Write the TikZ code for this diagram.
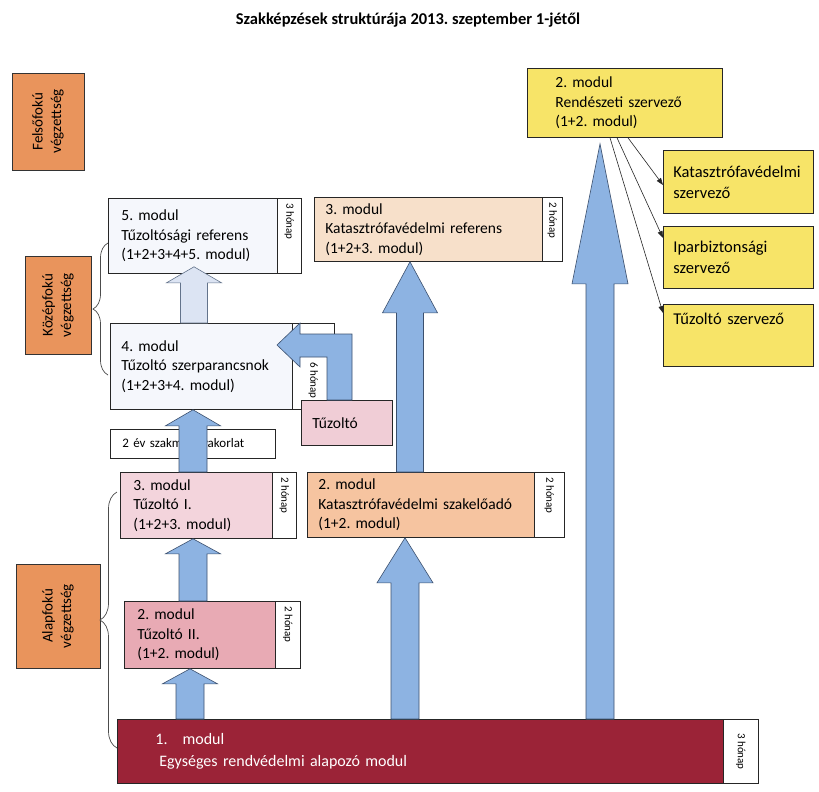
\documentclass[tikz,border=0pt]{standalone}
\usepackage{fontspec}
\setmainfont{Carlito}
\frenchspacing
\usetikzlibrary{calc,decorations.pathreplacing,arrows.meta}
\definecolor{lvl}{RGB}{233,148,92}
\definecolor{modw}{RGB}{245,247,252}
\definecolor{katref}{RGB}{247,224,202}
\definecolor{katszak}{RGB}{246,196,160}
\definecolor{tpink}{RGB}{243,212,220}
\definecolor{tpinkd}{RGB}{232,170,180}
\definecolor{tuzp}{RGB}{240,205,214}
\definecolor{darkred}{RGB}{155,35,55}
\definecolor{yel}{RGB}{247,228,104}
\definecolor{arrblue}{RGB}{141,179,226}
\definecolor{arrline}{RGB}{60,80,110}
\definecolor{lav}{RGB}{220,228,243}
\newcommand\mfont{\fontsize{15.5}{19.5}\selectfont}
\newcommand\rfont{\fontsize{16.5}{21}\selectfont}
\newcommand\modbox[9][]{% opts,name,x1,y1,x2,y2,fill,pad,text
  \pgfmathsetmacro\tw{#5-#3-2*#8}\pgfmathsetmacro\bh{#6-#4}%
  \node[box, fill=#7, inner xsep=#8pt, minimum height=\bh pt, text width=\tw pt, anchor=north west, #1] (#2) at (#3,#4) {#9};}
\newcommand\tabbox[7]{% name,x1,y1,x2,y2,text offset,text
  \pgfmathsetmacro\tw{#4-#2}\pgfmathsetmacro\bh{#5-#3}%
  \node[tabframe, minimum width=\tw pt, minimum height=\bh pt, anchor=north west] (#1) at (#2,#3) {};
  \node[tabtxt] (#1x) at ($(#1.north)+(0,#6)$) {#7};}
\newcommand\blockup[6]{% base, tip, half shaft, half head, head length, style
  \draw[#6] let \p1=#1, \p2=#2 in
   ({\x2-#3},\y1) -- ({\x2-#3},{\y2-#5}) -- ({\x2-#4},{\y2-#5}) -- (\x2,\y2)
   -- ({\x2+#4},{\y2-#5}) -- ({\x2+#3},{\y2-#5}) -- ({\x2+#3},\y1) -- cycle;}
\tikzset{
  box/.style={draw=black!85, line width=0.8pt, align=left, font=\mfont, inner ysep=0pt},
  tabframe/.style={draw=black!85, fill=white, line width=0.8pt, inner sep=0pt},
  tabtxt/.style={font=\fontsize{11}{13}\selectfont, rotate=-90, anchor=west, inner sep=0pt},
  lvlbox/.style={draw=black!80, fill=lvl, line width=0.8pt, rotate=90, align=center,
     font=\fontsize{15}{18.5}\selectfont, inner sep=0pt},
  barrow/.style={fill=arrblue, draw=arrline, line width=0.6pt, line join=miter},
  larrow/.style={fill=lav, draw=arrline!80, line width=0.6pt, line join=miter},
  thinarr/.style={draw=black!85, line width=0.6pt, -{Triangle[length=7pt,width=5pt]}},
  bracel/.style={draw=black!70, line width=0.7pt, decorate}
}
\begin{document}
\begin{tikzpicture}[x=1pt,y=-1pt]
\useasboundingbox[fill=white] (0,0) rectangle (819,792);
% title
\node[font=\fontsize{16.5}{19}\selectfont\bfseries] (title) at (408,20) {Szakképzések struktúrája 2013. szeptember 1-jétől};
% level boxes
\node[lvlbox, minimum width=97pt, minimum height=72pt] (felso) at (48,121.5) {Felsőfokú\\végzettség};
\node[lvlbox, minimum width=98pt, minimum height=66pt] (kozep) at (58,305) {Középfokú\\végzettség};
\node[lvlbox, minimum width=104pt, minimum height=84pt] (alap) at (58,616) {Alapfokú\\végzettség};
% modules
\modbox{m5}{108}{198}{277}{273}{modw}{13}{5. modul\\Tűzoltósági referens\\(1+2+3+4+5. modul)}
\tabbox{t5}{277}{198}{301}{273}{5}{3 hónap}
\modbox{m4}{110}{323}{292}{409}{modw}{11}{4. modul\\Tűzoltó szerparancsnok\\(1+2+3+4. modul)\\[6pt]}
\tabbox{t4}{292}{323}{334}{409}{39}{6 hónap}
\modbox{kref}{314}{197}{542}{261}{katref}{11}{3. modul\\Katasztrófavédelmi referens\\(1+2+3. modul)}
\tabbox{tkref}{542}{197}{562}{261}{5}{2 hónap}
\modbox{rend}{527}{68}{722}{137}{yel}{28}{2. modul\\Rendészeti szervező\\(1+2. modul)}
\modbox[font=\rfont]{ksz}{663}{150}{813}{213}{yel}{10}{Katasztrófavédelmi\\szervező}
\modbox[font=\rfont]{isz}{663}{226}{813}{288}{yel}{10}{Iparbiztonsági\\szervező}
\modbox[font=\rfont]{tsz}{663}{304}{813}{366}{yel}{10}{Tűzoltó szervező\\[12pt]\mbox{}}
\modbox[fill=white, font=\fontsize{13}{15}\selectfont]{gyak}{110}{429}{275}{458}{white}{12}{2 év szakmai gyakorlat}
\modbox{t1}{120}{472}{272}{538}{tpink}{13}{3. modul\\Tűzoltó I.\\(1+2+3. modul)}
\tabbox{tt1}{272}{472}{296}{538}{5}{2 hónap}
\modbox{t2}{124}{601}{275}{668}{tpinkd}{13}{2. modul\\Tűzoltó II.\\(1+2. modul)}
\tabbox{tt2}{275}{601}{300}{668}{5}{2 hónap}
\modbox{kszak}{307}{472}{534}{537}{katszak}{11}{2. modul\\Katasztrófavédelmi szakelőadó\\(1+2. modul)}
\tabbox{tkszak}{534}{472}{564}{537}{5}{2 hónap}
\modbox[font=\fontsize{16}{22}\selectfont]{bot}{117}{719}{723}{783}{darkred}{38}{\color{white}1.\hspace{15pt}modul\\\color{white}\hspace{4pt}Egységes rendvédelmi alapozó modul\\[-6pt]}
\node[tabframe, minimum width=35pt, minimum height=64pt, anchor=north west] (tbot) at (723,719) {};
\node[tabtxt, anchor=center] (tbotx) at (tbot.center) {3 hónap};
\modbox{tuz}{301}{400}{392}{445}{tuzp}{11}{Tűzoltó}
% braces
\draw[bracel, decoration={brace, amplitude=15pt}] (108,375) -- (108,243);
\draw[bracel, decoration={brace, amplitude=17pt}] (117,748) -- (117,492);
% block arrows
\blockup{(m4.north -| 193,0)}{($(m5.south -| 194,0)+(0,-7)$)}{13.5pt}{27.5pt}{16pt}{larrow}
\blockup{(t1.north -| 193,0)}{(m4.south -| 193,0)}{14pt}{27.5pt}{16pt}{barrow}
\blockup{(t2.north -| 193,0)}{(t1.south -| 193,0)}{14pt}{27.5pt}{15pt}{barrow}
\blockup{(bot.north -| 190,0)}{(t2.south -| 190,0)}{14pt}{27.5pt}{15pt}{barrow}
\blockup{(bot.north -| 405,0)}{(kszak.south -| 405,0)}{14pt}{28pt}{45pt}{barrow}
\blockup{(kszak.north -| 410,0)}{(kref.south -| 410,0)}{13.5pt}{27.5pt}{51pt}{barrow}
\blockup{(bot.north -| 600,0)}{($(rend.south -| 600,0)+(0,6)$)}{14pt}{28pt}{140pt}{barrow}
% bent arrow from Tuzolto to 4. modul
\draw[barrow] (tuz.north -| 327,0) -- (327,357) -- (300,357) -- (300,367) -- (277,345)
   -- (300,323) -- (300,334) -- (352,334) -- (tuz.north -| 352,0) -- cycle;
% thin arrows
\draw[thinarr] (rend.south -| 628,0) -- (ksz.west |- 0,185);
\draw[thinarr] (rend.south -| 617,0) -- (isz.west |- 0,238);
\draw[thinarr] (rend.south -| 610,0) -- (tsz.west |- 0,313);
\end{tikzpicture}
\end{document}
